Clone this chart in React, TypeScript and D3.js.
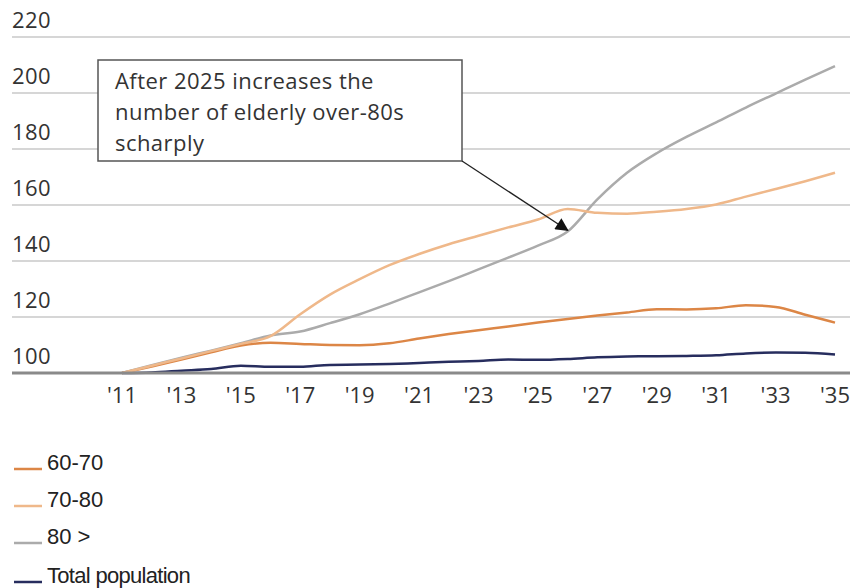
import React from "react";
import * as d3 from "d3";

const years = [2011, 2012, 2013, 2014, 2015, 2016, 2017, 2018, 2019, 2020, 2021, 2022, 2023, 2024, 2025, 2026, 2027, 2028, 2029, 2030, 2031, 2032, 2033, 2034, 2035];

const age6070 = [100, 102.3, 104.8, 107.4, 109.8, 110.8, 110.4, 110.0, 109.9, 110.6, 112.3, 113.9, 115.3, 116.6, 118.0, 119.3, 120.5, 121.6, 122.8, 122.7, 123.1, 124.2, 123.6, 120.8, 118.0];
const age7080 = [100, 102.6, 105.2, 107.8, 110.4, 113.2, 121.0, 128.0, 133.5, 138.5, 142.5, 146.0, 149.0, 152.0, 154.8, 158.6, 157.2, 156.9, 157.6, 158.6, 160.2, 163.0, 165.7, 168.5, 171.5];
const age80plus = [100, 102.8, 105.5, 108.0, 110.6, 113.4, 114.8, 117.8, 121.0, 124.8, 128.8, 132.8, 137.0, 141.2, 145.5, 150.5, 162.0, 171.5, 178.5, 184.3, 189.5, 194.8, 199.8, 204.8, 209.6];
const totalPop = [100, 100.2, 100.8, 101.4, 102.6, 102.2, 102.2, 102.9, 103.0, 103.2, 103.6, 104.0, 104.3, 104.8, 104.7, 105.0, 105.6, 105.9, 106.0, 106.1, 106.3, 107.0, 107.3, 107.2, 106.6];

const yTicks = [100, 120, 140, 160, 180, 200, 220];
const xTickYears = [2011, 2013, 2015, 2017, 2019, 2021, 2023, 2025, 2027, 2029, 2031, 2033, 2035];

const seriesNames = ["60-70", "70-80", "80 >", "Total population"];
const seriesColors = ["#dc8646", "#efb88a", "#ababab", "#272d5e"];
const seriesData = [age6070, age7080, age80plus, totalPop];

const annotationLines = ["After 2025 increases the", "number of elderly over-80s", "scharply"];

const FONT = "'Open Sans', 'Noto Sans', sans-serif";
const LEGEND_FONT = "'Liberation Sans', Arial, sans-serif";

export default function App() {
  const W = 852;
  const H = 588;
  const x = d3.scaleLinear().domain([2011, 2035]).range([122, 835]);
  const y = d3.scaleLinear().domain([100, 220]).range([373, 37]);

  const line = d3
    .line<number>()
    .x((_, i) => x(years[i]))
    .y((d) => y(d))
    .curve(d3.curveMonotoneX);

  const drawOrder = [3, 0, 2, 1];

  const boxX = 98, boxY = 60, boxW = 364, boxH = 101;
  const arrowFrom: [number, number] = [boxX + boxW, boxY + boxH];
  const arrowTo: [number, number] = [x(2026), y(151)];

  return (
    <svg width={W} height={H} style={{ position: "absolute", left: 0, top: 0, background: "#fff" }} fontFamily={FONT}>
      <defs>
        <marker id="arrowhead" viewBox="0 0 10 10" refX="9" refY="5" markerWidth="15" markerHeight="13" markerUnits="userSpaceOnUse" orient="auto">
          <path d="M0,0 L10,5 L0,10 Z" fill="#111" />
        </marker>
      </defs>
      {yTicks.map((t) => (
        <g key={t}>
          {t !== 100 && (
            <line x1={12} x2={850} y1={y(t)} y2={y(t)} stroke="#c9c9c9" strokeWidth={1.5} />
          )}
          <text x={12} y={y(t) - 9} fontSize={22} fill="#333" letterSpacing={0.4}>
            {t}
          </text>
        </g>
      ))}
      {drawOrder.map((si) => (
        <path key={si} d={line(seriesData[si]) || ""} fill="none" stroke={seriesColors[si]} strokeWidth={2.5} strokeLinejoin="round" />
      ))}
      <line x1={12} x2={850} y1={y(100)} y2={y(100)} stroke="#8a8a8a" strokeWidth={3} />
      {xTickYears.map((yr) => (
        <text key={yr} x={x(yr)} y={403} fontSize={22} fill="#333" textAnchor="middle">
          {"'" + String(yr).slice(2)}
        </text>
      ))}
      <rect x={boxX} y={boxY} width={boxW} height={boxH} fill="#fff" stroke="#555" strokeWidth={1.5} />
      {annotationLines.map((s, i) => (
        <text key={i} x={115} y={89 + i * 31} fontSize={22} fill="#333" letterSpacing={0.45}>
          {s}
        </text>
      ))}
      <line x1={arrowFrom[0]} y1={arrowFrom[1]} x2={arrowTo[0]} y2={arrowTo[1]} stroke="#222" strokeWidth={1.3} markerEnd="url(#arrowhead)" />
      {seriesNames.map((n, i) => {
        const cy = [469, 506, 543, 582][i];
        return (
          <g key={n}>
            <line x1={14} x2={42} y1={cy} y2={cy} stroke={seriesColors[i]} strokeWidth={2.5} />
            <text x={47} y={cy + 1} fontSize={22} fill="#222" fontFamily={LEGEND_FONT} letterSpacing={i === 3 ? -0.7 : 0}>
              {n}
            </text>
          </g>
        );
      })}
    </svg>
  );
}
